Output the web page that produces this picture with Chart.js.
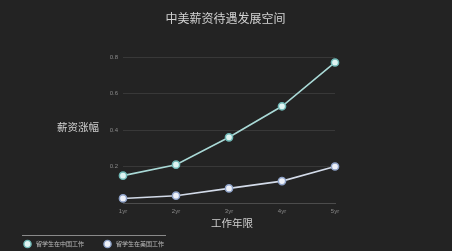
<!DOCTYPE html>
<html>
<head>
<meta charset="utf-8">
<script src="https://cdn.jsdelivr.net/npm/chart.js@4"></script>
<style>
  html, body { margin: 0; padding: 0; background: #232323; }
  #c { display: block; }
</style>
</head>
<body>
<canvas id="c" width="452" height="251"></canvas>
<script>
// Years of work experience
const years = ['1yr', '2yr', '3yr', '4yr', '5yr'];
// Salary growth for graduates working in China / in the US
const chinaGrowth = [0.15, 0.21, 0.36, 0.53, 0.77];
const usGrowth = [0.025, 0.04, 0.08, 0.12, 0.20];
const seriesNames = ['留学生在中国工作', '留学生在美国工作'];
const yTicks = [0, 0.2, 0.4, 0.6, 0.8];

const chartTitle = '中美薪资待遇发展空间';
const yTitle = '薪资涨幅';
const xTitle = '工作年限';

const CJK = '"Noto Sans CJK SC", "Noto Sans", sans-serif';
const LATIN = '"Liberation Sans", "DejaVu Sans", sans-serif';

const lineColors = ['#a9d9d6', '#d3dbe9'];
const pointFills = ['#dff4f2', '#eef1f8'];
const pointRings = ['#6fb8b6', '#8ea2c8'];

// Titles, horizontal y-axis caption and a custom bottom legend
const decorations = {
  id: 'decorations',
  afterDraw(chart) {
    const ctx = chart.ctx;
    const area = chart.chartArea;
    ctx.save();
    ctx.textBaseline = 'middle';

    ctx.fillStyle = '#d2d2d2';
    ctx.font = '12px ' + CJK;
    ctx.textAlign = 'center';
    ctx.fillText(chartTitle, 225.5, 18);

    ctx.font = '10.5px ' + CJK;
    ctx.fillStyle = '#cfcfcf';
    ctx.textAlign = 'left';
    ctx.fillText(yTitle, 57, 127);

    ctx.textAlign = 'center';
    ctx.fillText(xTitle, (area.left + area.right) / 2 + 3, 223);

    // legend separator
    ctx.strokeStyle = '#8a8a8a';
    ctx.lineWidth = 1;
    ctx.beginPath();
    ctx.moveTo(22, 235.5);
    ctx.lineTo(166, 235.5);
    ctx.stroke();

    const starts = [27.5, 107.5];
    chart.data.datasets.forEach((ds, i) => {
      const cx = starts[i];
      const cy = 244;
      ctx.beginPath();
      ctx.arc(cx, cy, 3.6, 0, Math.PI * 2);
      ctx.fillStyle = ds.pointBackgroundColor;
      ctx.fill();
      ctx.lineWidth = 1.4;
      ctx.strokeStyle = ds.pointBorderColor;
      ctx.stroke();
      ctx.fillStyle = '#bdbdbd';
      ctx.font = '6px ' + CJK;
      ctx.textAlign = 'left';
      ctx.fillText(ds.label, cx + 8.5, cy);
    });
    ctx.restore();
  }
};

new Chart(document.getElementById('c'), {
  type: 'line',
  data: {
    labels: years,
    datasets: [
      {
        label: seriesNames[0],
        data: chinaGrowth,
        borderColor: lineColors[0],
        borderWidth: 1.6,
        pointBackgroundColor: pointFills[0],
        pointBorderColor: pointRings[0],
        pointBorderWidth: 1.5,
        pointRadius: 3.6,
        tension: 0
      },
      {
        label: seriesNames[1],
        data: usGrowth,
        borderColor: lineColors[1],
        borderWidth: 1.6,
        pointBackgroundColor: pointFills[1],
        pointBorderColor: pointRings[1],
        pointBorderWidth: 1.5,
        pointRadius: 3.6,
        tension: 0
      }
    ]
  },
  options: {
    responsive: false,
    animation: false,
    devicePixelRatio: 1,
    layout: { padding: { left: 0, top: 57, right: 117, bottom: 37 } },
    plugins: {
      legend: { display: false },
      title: { display: false },
      tooltip: { enabled: false }
    },
    scales: {
      x: {
        offset: false,
        grid: { display: false, drawTicks: false },
        border: { display: true, color: '#4c4c4c', width: 1 },
        ticks: {
          color: '#8a8a8a',
          font: { size: 6, family: LATIN },
          padding: 5,
          maxRotation: 0
        },
        afterFit(scale) { scale.height = 11; }
      },
      y: {
        min: yTicks[0],
        max: yTicks[yTicks.length - 1],
        afterBuildTicks(scale) { scale.ticks = yTicks.map(v => ({ value: v })); },
        grid: { color: '#383838', lineWidth: 1, drawTicks: false },
        border: { display: false },
        ticks: {
          color: '#8a8a8a',
          font: { size: 6, family: LATIN },
          padding: 5,
          callback: v => (v === 0 ? '' : Number(v).toFixed(1))
        },
        afterFit(scale) { scale.width = 123; }
      }
    }
  },
  plugins: [decorations]
});
</script>
</body>
</html>
